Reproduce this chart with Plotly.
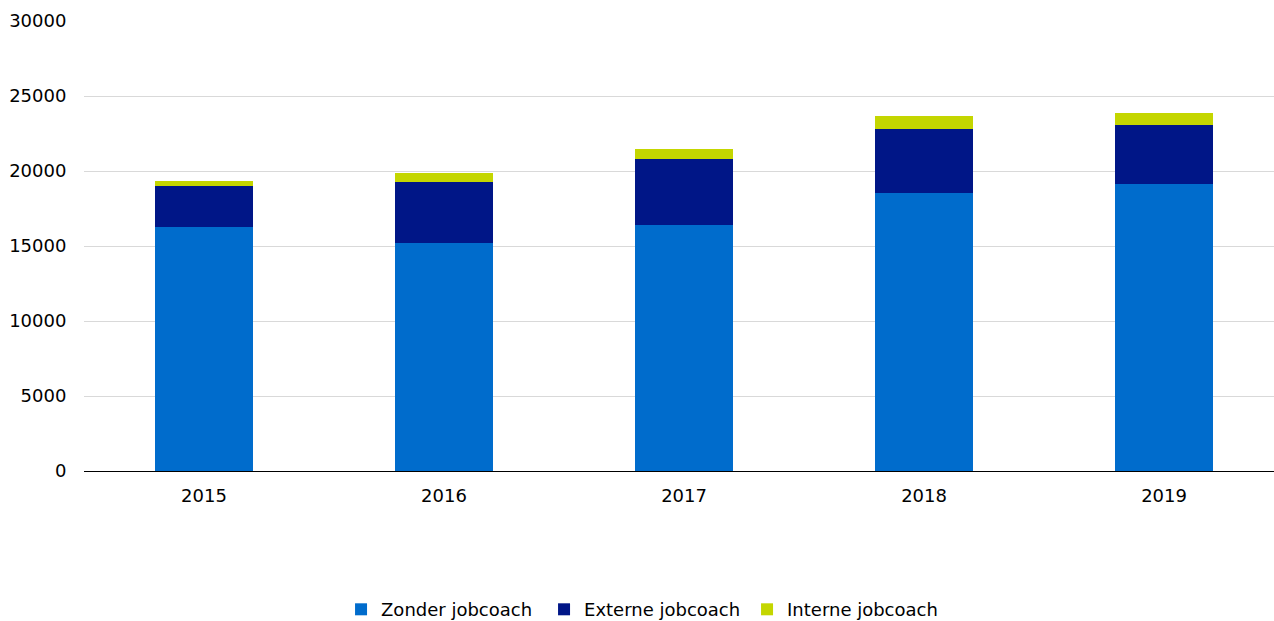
import plotly.graph_objects as go

# Jaartallen en aantallen per categorie
years = ["2015", "2016", "2017", "2018", "2019"]
zonder_jobcoach = [16270, 15200, 16380, 18550, 19110]
externe_jobcoach = [2750, 4090, 4410, 4240, 3970]
interne_jobcoach = [310, 570, 710, 890, 800]

y_ticks = [0, 5000, 10000, 15000, 20000, 25000, 30000]
y_tick_labels = [str(v) for v in y_ticks]

FONT = "Verdana, DejaVu Sans, sans-serif"

fig = go.Figure()
series = [
    ("Zonder jobcoach", zonder_jobcoach, "#006ccc"),
    ("Externe jobcoach", externe_jobcoach, "#001687"),
    ("Interne jobcoach", interne_jobcoach, "#c4d600"),
]
for name, values, color in series:
    fig.add_trace(go.Bar(
        x=list(range(len(years))),
        y=values,
        name=name,
        width=0.41,
        marker=dict(color=color, line=dict(width=0)),
    ))

fig.update_layout(
    barmode="stack",
    width=1274,
    height=621,
    margin=dict(l=84, r=0, t=21, b=150, autoexpand=False),
    paper_bgcolor="white",
    plot_bgcolor="white",
    font=dict(family=FONT, size=18, color="#000000"),
    showlegend=True,
    legend=dict(
        orientation="h",
        x=0.216, xanchor="left",
        y=-0.308, yanchor="middle",
        font=dict(family=FONT, size=18),
        itemwidth=30,
        entrywidth=158,
        entrywidthmode="pixels",
        traceorder="normal",
    ),
    xaxis=dict(
        tickmode="array",
        tickvals=list(range(len(years))),
        ticktext=years,
        range=[-0.5, 4.458],
        showgrid=False,
        showline=True,
        linecolor="#000000",
        linewidth=1,
        ticks="outside",
        ticklen=8,
        tickcolor="rgba(0,0,0,0)",
        zeroline=False,
    ),
    yaxis=dict(
        range=[0, 30000],
        tickmode="array",
        tickvals=y_ticks,
        ticktext=y_tick_labels,
        showgrid=True,
        gridcolor="#d9d9d9",
        gridwidth=1,
        zeroline=False,
        showline=False,
        ticks="outside",
        ticklen=13,
        tickcolor="rgba(0,0,0,0)",
    ),
)

fig.write_html("out.html")
